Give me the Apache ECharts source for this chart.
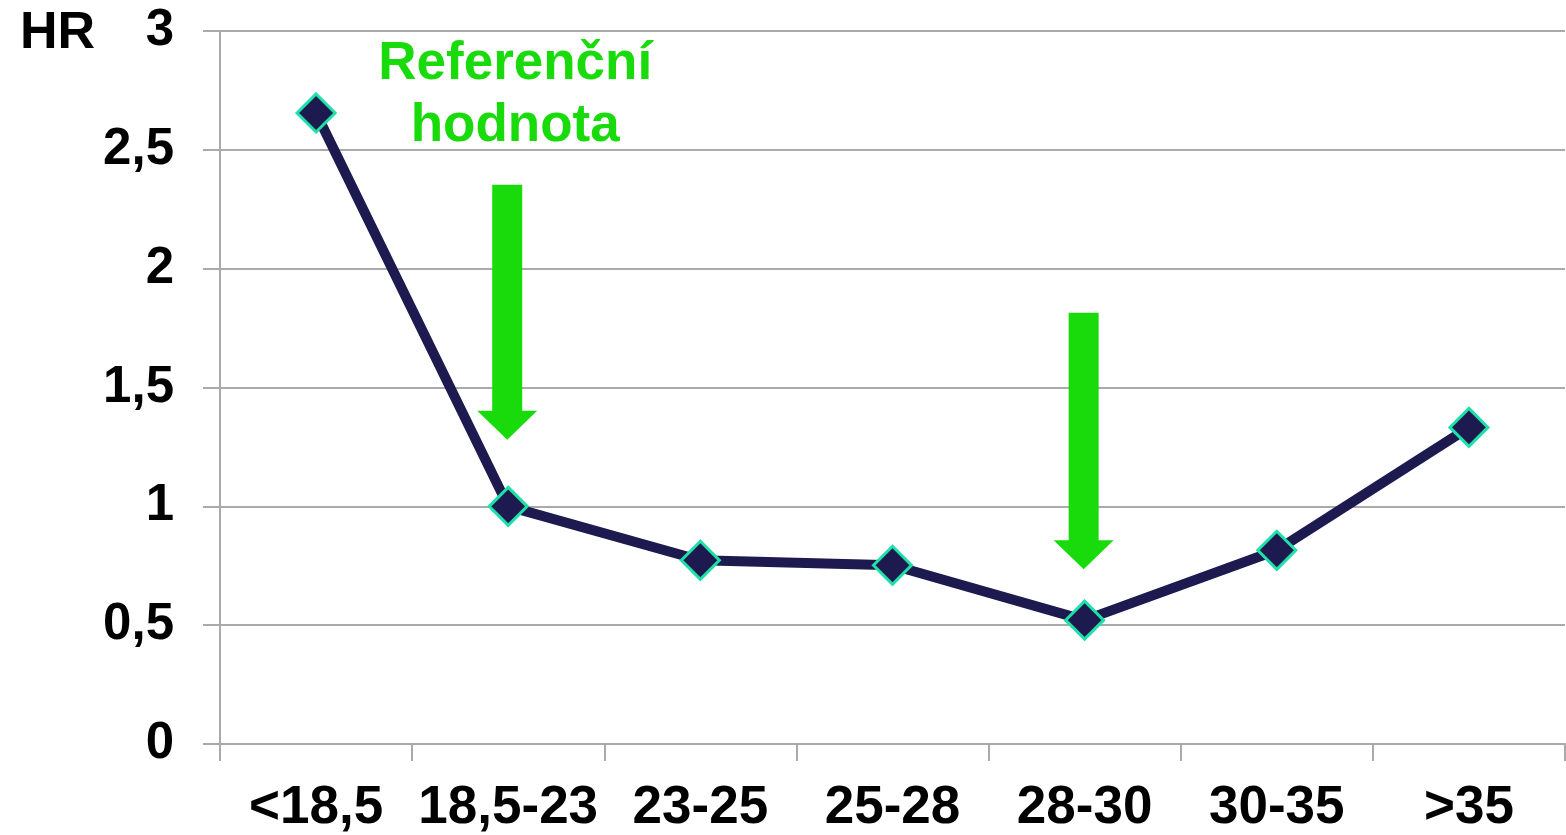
<!DOCTYPE html>
<html>
<head>
<meta charset="utf-8">
<script src="https://cdn.jsdelivr.net/npm/echarts@6/dist/echarts.min.js"></script>
<style>
  html, body { margin: 0; padding: 0; background: #fff; }
  #chart { width: 1566px; height: 835px; }
</style>
</head>
<body>
<div id="chart"></div>
<script>
// BMI skupiny a HR
const categories = ['<18,5', '18,5-23', '23-25', '25-28', '28-30', '30-35', '>35'];
const hrValues = [2.655, 1.0, 0.773, 0.752, 0.521, 0.815, 1.332];

// šipky: kategorie, horní hodnota, hodnota hrotu
const arrowCats = [1, 4];
const arrowTops = [2.353, 1.815];
const arrowTips = [1.28, 0.735];

const green = '#19db0b';
const gray = '#aaaaaa';
const font = '"Liberation Sans", Arial, sans-serif';

const chart = echarts.init(document.getElementById('chart'));

const option = {
  animation: false,
  title: {
    text: 'HR',
    left: 15,
    top: 3,
    textStyle: { fontFamily: font, fontSize: 52, fontWeight: 'bold', color: '#000' }
  },
  grid: { left: 220, right: 1, top: 31, bottom: 90 },
  xAxis: {
    type: 'category',
    data: categories,
    boundaryGap: true,
    axisLine: { lineStyle: { color: gray, width: 2 } },
    axisTick: { show: true, length: 17, lineStyle: { color: gray, width: 2 } },
    axisLabel: {
      margin: 38,
      fontFamily: font,
      fontSize: 53,
      fontWeight: 'bold',
      color: '#000',
      interval: 0
    }
  },
  yAxis: {
    type: 'value',
    min: 0,
    max: 3,
    interval: 0.5,
    axisLine: { show: true, lineStyle: { color: gray, width: 2 } },
    axisTick: { show: true, length: 17, lineStyle: { color: gray, width: 2 } },
    splitLine: { lineStyle: { color: gray, width: 2 } },
    axisLabel: {
      margin: 46,
      fontFamily: font,
      fontSize: 51,
      fontWeight: 'bold',
      color: '#000',
      formatter: v => String(v).replace('.', ',')
    }
  },
  series: [{
    type: 'line',
    data: hrValues,
    symbol: 'diamond',
    symbolSize: 38,
    lineStyle: { color: '#1c1a4f', width: 10 },
    itemStyle: { color: '#1c1a4f', borderColor: '#1ee0a8', borderWidth: 3 },
    z: 3
  }]
};

chart.setOption(option);

function buildGraphics() {
  const els = [];
  arrowCats.forEach((c, i) => {
    const top = chart.convertToPixel({ gridIndex: 0 }, [c, arrowTops[i]]);
    const tip = chart.convertToPixel({ gridIndex: 0 }, [c, arrowTips[i]]);
    const x = tip[0] - 1;
    const headH = 29, shaftW = 15, headW = 30;
    els.push({
      type: 'polygon',
      shape: {
        points: [
          [x - shaftW, top[1]], [x + shaftW, top[1]],
          [x + shaftW, tip[1] - headH], [x + headW, tip[1] - headH],
          [x, tip[1]],
          [x - headW, tip[1] - headH], [x - shaftW, tip[1] - headH]
        ]
      },
      style: { fill: green },
      z: 10
    });
  });
  const refX = chart.convertToPixel({ xAxisIndex: 0 }, 1) + 7;
  els.push({
    type: 'text',
    x: refX,
    y: 95,
    style: {
      text: 'Referenční\nhodnota',
      fill: green,
      font: 'bold 53px ' + font,
      align: 'center',
      verticalAlign: 'middle',
      lineHeight: 62
    },
    z: 10
  });
  chart.setOption({ graphic: els });
}

buildGraphics();
</script>
</body>
</html>
